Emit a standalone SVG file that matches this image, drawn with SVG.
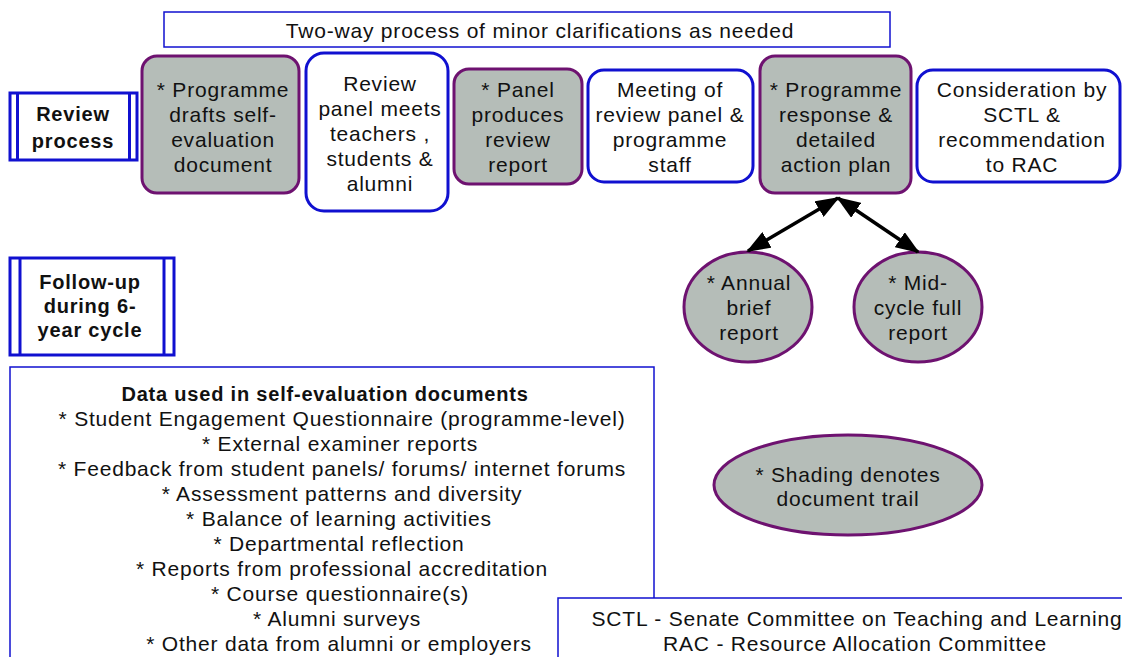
<svg xmlns="http://www.w3.org/2000/svg" width="1122" height="657" viewBox="0 0 1122 657">
<style>
text{font-family:"Liberation Sans",Arial,sans-serif;font-size:21px;letter-spacing:0.8px;fill:#111;text-anchor:middle}
.b{font-weight:bold;font-size:20px}
.doc{fill:#b5bdb8;stroke:#6e1270;stroke-width:3}
.step{fill:#fff;stroke:#1010d0;stroke-width:3}
.thin{fill:#fff;stroke:#1010d0;stroke-width:1.5}
.lab{fill:#fff;stroke:#1010d0;stroke-width:3}
.conn{stroke:#000;stroke-width:3.5;fill:none}
</style>
<defs>
<marker id="ah" viewBox="0 0 24 18" refX="22" refY="9" markerWidth="24" markerHeight="18" markerUnits="userSpaceOnUse" orient="auto-start-reverse">
<path d="M0,0 L24,9 L0,18 z" fill="#000"/>
</marker>
</defs>
<rect width="1122" height="657" fill="#fff"/>

<g id="twoway">
<rect class="thin" x="164" y="12" width="726" height="35"/>
<text x="540" y="38">Two-way process of minor clarifications as needed</text>
</g>

<g id="review-process">
<rect class="lab" x="10" y="93" width="127" height="67"/>
<line x1="17.5" y1="93" x2="17.5" y2="160" stroke="#1010d0" stroke-width="3"/>
<line x1="129.5" y1="93" x2="129.5" y2="160" stroke="#1010d0" stroke-width="3"/>
<text class="b" x="73" y="121">Review</text>
<text class="b" x="73" y="148">process</text>
</g>

<g id="box1">
<rect class="doc" x="142" y="56" width="157" height="137" rx="15"/>
<text x="223" y="97">* Programme</text>
<text x="223" y="122">drafts self-</text>
<text x="223" y="147">evaluation</text>
<text x="223" y="172">document</text>
</g>

<g id="box2">
<rect class="step" x="306" y="53" width="142" height="158" rx="18"/>
<text x="380" y="91">Review</text>
<text x="380" y="116">panel meets</text>
<text x="380" y="141">teachers ,</text>
<text x="380" y="166">students &amp;</text>
<text x="380" y="191">alumni</text>
</g>

<g id="box3">
<rect class="doc" x="454" y="69" width="128" height="115" rx="15"/>
<text x="518" y="97">* Panel</text>
<text x="518" y="122">produces</text>
<text x="518" y="147">review</text>
<text x="518" y="172">report</text>
</g>

<g id="box4">
<rect class="step" x="588" y="70" width="165" height="112" rx="16"/>
<text x="670" y="97">Meeting of</text>
<text x="670" y="122">review panel &amp;</text>
<text x="670" y="147">programme</text>
<text x="670" y="172">staff</text>
</g>

<g id="box5">
<rect class="doc" x="760" y="56" width="151" height="137" rx="15"/>
<text x="836" y="97">* Programme</text>
<text x="836" y="122">response &amp;</text>
<text x="836" y="147">detailed</text>
<text x="836" y="172">action plan</text>
</g>

<g id="box6">
<rect class="step" x="917" y="70" width="203" height="112" rx="16"/>
<text x="1022" y="97">Consideration by</text>
<text x="1022" y="122">SCTL &amp;</text>
<text x="1022" y="147">recommendation</text>
<text x="1022" y="172">to RAC</text>
</g>

<g id="followup">
<rect class="lab" x="10" y="258" width="164" height="97"/>
<line x1="20" y1="258" x2="20" y2="355" stroke="#1010d0" stroke-width="3"/>
<line x1="164" y1="258" x2="164" y2="355" stroke="#1010d0" stroke-width="3"/>
<text class="b" x="90" y="289">Follow-up</text>
<text class="b" x="90" y="313">during 6-</text>
<text class="b" x="90" y="337">year cycle</text>
</g>

<g id="annual">
<ellipse class="doc" cx="748" cy="307" rx="64" ry="55"/>
<text x="749" y="290">* Annual</text>
<text x="749" y="315">brief</text>
<text x="749" y="340">report</text>
</g>

<g id="midcycle">
<ellipse class="doc" cx="918" cy="307" rx="64" ry="55"/>
<text x="918" y="290">* Mid-</text>
<text x="918" y="315">cycle full</text>
<text x="918" y="340">report</text>
</g>

<g id="connectors">
<line class="conn" x1="838" y1="198" x2="748" y2="251" marker-start="url(#ah)" marker-end="url(#ah)"/>
<line class="conn" x1="838" y1="198" x2="918" y2="252" marker-start="url(#ah)" marker-end="url(#ah)"/>
</g>

<g id="data">
<rect class="thin" x="10" y="367" width="644" height="300"/>
<text class="b" x="325" y="401">Data used in self-evaluation documents</text>
<text x="342" y="426">* Student Engagement Questionnaire (programme-level)</text>
<text x="340" y="451">* External examiner reports</text>
<text x="342" y="476">* Feedback from student panels/ forums/ internet forums</text>
<text x="342" y="501">* Assessment patterns and diversity</text>
<text x="339" y="526">* Balance of learning activities</text>
<text x="339" y="551">* Departmental reflection</text>
<text x="342" y="576">* Reports from professional accreditation</text>
<text x="340" y="601">* Course questionnaire(s)</text>
<text x="337" y="626">* Alumni surveys</text>
<text x="339" y="651">* Other data from alumni or employers</text>
</g>

<g id="shading">
<ellipse class="doc" cx="848" cy="485" rx="134" ry="50"/>
<text x="848" y="482">* Shading denotes</text>
<text x="848" y="506">document trail</text>
</g>

<g id="legend">
<rect class="thin" x="558" y="598" width="580" height="80"/>
<text x="857" y="626">SCTL - Senate Committee on Teaching and Learning</text>
<text x="855" y="651">RAC - Resource Allocation Committee</text>
</g>
</svg>
